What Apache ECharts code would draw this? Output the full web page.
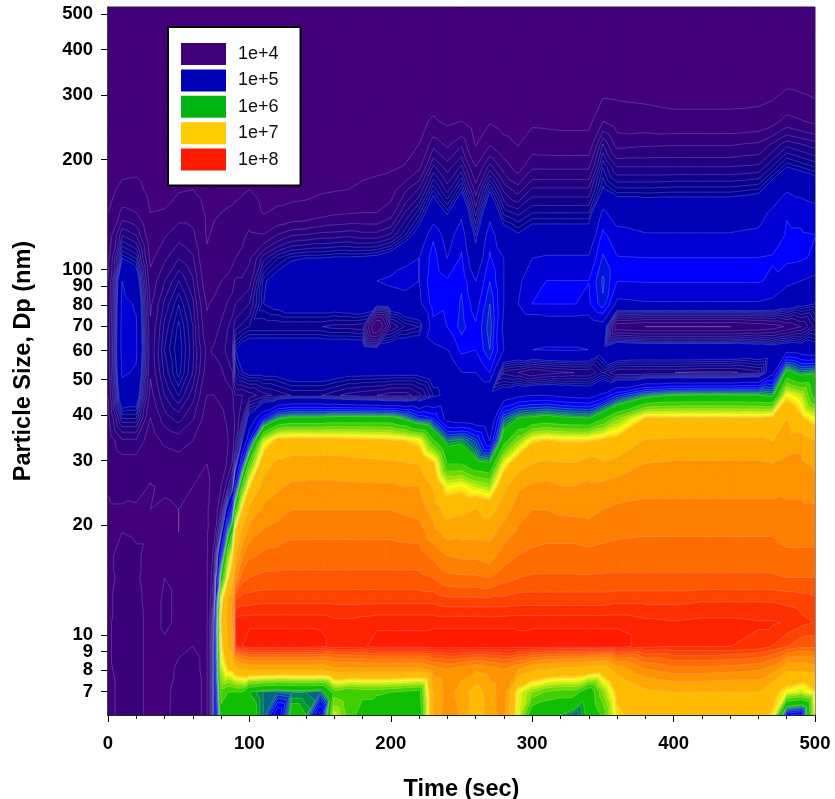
<!DOCTYPE html>
<html><head><meta charset="utf-8"><style>html,body{margin:0;padding:0;background:#fff}#c{width:835px;height:799px}</style>
<script src="https://cdn.jsdelivr.net/npm/echarts@6/dist/echarts.min.js"></script></head><body><div id="c"></div>
<script>
const legendLabels=['1e+4','1e+5','1e+6','1e+7','1e+8'];
const legendColors=['#3f0077','#0000b5','#00b414','#ffcc00','#ff1a00'];
const xTicks=[0,100,200,300,400,500];
const yTickValues=[7,8,9,10,20,30,40,50,60,70,80,90,100,200,300,400,500];
const diameters=[6.04,6.98,8.06,9.31,10.8,12.4,14.3,16.5,19.1,22.1,25.5,29.4,34.0,39.2,45.3,52.3,60.4,69.8,80.6,93.1,107.5,124.1,143.3,165.5,191.1,220.7,254.8,294.3,339.8,392.5,453.2,523.3];
const times=[0,10,20,30,40,50,60,70,75,80,85,88,90,95,100,110,120,130,140,150,160,170,180,190,200,210,220,230,240,250,260,270,280,290,300,310,320,330,340,350,360,380,400,420,440,460,470,480,490,500];
// log10 of concentration: one profile per time, from the smallest diameter to the largest
const logConc=[
[3.98,3.98,3.99,3.99,3.99,3.99,3.98,3.98,3.97,3.97,4.02,4.08,4.15,4.25,4.30,4.38,4.38,4.36,4.33,4.30,4.25,4.15,4.00,3.90,3.80,3.75,3.70,3.65,3.60,3.55,3.50,3.45],
[4.02,4.02,4.02,4.03,4.03,4.02,4.02,4.03,4.00,3.97,4.10,4.20,4.45,4.85,5.20,5.33,5.38,5.38,5.36,5.30,5.00,4.70,4.36,4.08,3.90,3.80,3.72,3.65,3.60,3.55,3.50,3.45],
[4.03,4.03,4.03,4.03,4.03,4.02,4.01,4.01,3.99,3.98,4.05,4.20,4.45,4.85,5.15,5.28,5.33,5.32,5.28,5.15,4.90,4.60,4.30,4.10,3.92,3.80,3.72,3.65,3.60,3.55,3.50,3.45],
[3.97,3.97,3.97,3.97,3.97,3.97,3.97,3.98,3.99,4.00,3.99,4.05,4.18,4.30,4.42,4.50,4.52,4.50,4.45,4.38,4.25,4.15,4.00,3.90,3.82,3.75,3.70,3.65,3.60,3.55,3.50,3.45],
[3.98,3.98,3.98,3.99,4.01,4.01,4.00,3.98,3.98,3.98,4.02,4.15,4.35,4.55,4.70,4.80,4.85,4.80,4.72,4.60,4.45,4.28,4.02,3.90,3.82,3.76,3.70,3.65,3.60,3.55,3.50,3.45],
[4.03,4.03,4.01,3.99,3.99,3.99,3.99,3.99,4.00,4.00,4.03,4.20,4.40,4.65,4.85,4.98,5.00,4.97,4.90,4.78,4.60,4.42,4.20,3.97,3.85,3.78,3.72,3.65,3.60,3.55,3.50,3.45],
[4.03,4.03,4.02,4.00,3.99,3.99,3.98,3.98,3.99,3.99,4.00,4.10,4.30,4.50,4.65,4.78,4.80,4.78,4.72,4.62,4.50,4.35,4.20,4.00,3.90,3.80,3.72,3.65,3.60,3.55,3.50,3.45],
[3.98,3.98,3.98,3.98,3.98,3.98,3.98,3.98,3.98,3.98,3.97,4.00,4.05,4.20,4.30,4.40,4.45,4.35,4.28,4.15,4.05,3.97,3.95,3.85,3.82,3.78,3.72,3.65,3.60,3.55,3.50,3.45],
[5.00,5.00,5.00,5.00,4.95,4.70,4.55,4.40,4.20,4.10,4.05,4.05,4.10,4.20,4.30,4.40,4.50,4.40,4.35,4.20,4.10,4.05,3.97,3.90,3.85,3.78,3.72,3.65,3.60,3.55,3.50,3.45],
[6.20,6.40,6.70,6.90,7.00,6.85,6.10,5.50,4.90,4.50,4.30,4.15,4.15,4.25,4.35,4.45,4.55,4.50,4.40,4.30,4.15,4.08,4.00,3.90,3.87,3.78,3.72,3.65,3.60,3.55,3.50,3.45],
[6.20,6.30,7.00,7.30,7.40,7.35,6.95,6.55,5.90,5.20,4.60,4.35,4.30,4.35,4.40,4.55,4.65,4.60,4.50,4.35,4.20,4.10,4.02,3.93,3.88,3.78,3.72,3.65,3.60,3.55,3.50,3.45],
[6.20,6.30,7.05,7.40,7.50,7.50,7.20,6.90,6.30,5.60,4.85,4.50,4.40,4.40,4.45,4.60,4.70,4.65,4.55,4.40,4.25,4.13,4.03,3.94,3.88,3.78,3.72,3.65,3.60,3.55,3.50,3.45],
[6.20,6.30,7.20,7.95,7.98,7.85,7.55,7.30,7.00,6.20,5.40,4.80,4.55,4.50,4.60,4.90,5.00,4.75,4.60,4.50,4.30,4.18,4.05,3.95,3.88,3.78,3.72,3.65,3.60,3.55,3.50,3.45],
[6.15,6.30,7.30,8.00,7.99,7.88,7.75,7.60,7.35,7.00,6.40,5.60,5.00,4.70,4.60,5.00,5.10,4.80,4.65,4.50,4.35,4.25,4.10,3.97,3.90,3.78,3.72,3.65,3.60,3.55,3.50,3.45],
[6.10,6.00,7.35,8.03,7.99,7.88,7.78,7.68,7.55,7.35,6.95,6.40,5.50,5.10,4.65,5.05,5.15,4.85,4.70,4.55,4.45,4.35,4.15,4.00,3.92,3.78,3.72,3.65,3.60,3.55,3.50,3.45],
[5.90,5.90,7.35,8.03,7.99,7.89,7.80,7.72,7.62,7.50,7.38,7.20,6.75,5.55,4.75,5.05,5.15,4.85,5.00,4.98,4.75,4.32,3.98,3.90,3.85,3.78,3.72,3.65,3.60,3.55,3.50,3.45],
[5.30,5.85,7.35,8.03,7.99,7.89,7.80,7.73,7.65,7.55,7.45,7.35,7.10,5.95,4.80,5.05,5.15,4.85,5.05,5.08,4.90,4.50,4.05,3.88,3.85,3.78,3.72,3.65,3.60,3.55,3.50,3.45],
[6.10,5.90,7.35,8.03,7.99,7.89,7.80,7.74,7.68,7.60,7.50,7.40,7.12,6.05,4.85,5.10,5.15,4.85,5.10,5.15,4.98,4.60,4.10,3.88,3.85,3.78,3.72,3.65,3.60,3.55,3.50,3.45],
[6.00,5.90,7.35,8.03,7.99,7.89,7.80,7.74,7.68,7.60,7.50,7.40,7.12,6.05,4.85,5.10,5.15,4.85,5.10,5.18,5.00,4.62,4.12,3.90,3.85,3.78,3.72,3.65,3.60,3.55,3.50,3.45],
[5.20,5.85,7.35,8.02,7.99,7.89,7.80,7.74,7.68,7.60,7.50,7.42,7.10,6.05,4.85,5.10,5.15,4.85,5.10,5.20,5.00,4.65,4.20,3.95,3.85,3.78,3.72,3.65,3.60,3.55,3.50,3.45],
[6.75,6.40,7.45,7.98,7.97,7.89,7.80,7.74,7.68,7.60,7.50,7.42,7.09,6.10,4.80,5.08,5.15,4.82,5.10,5.20,5.02,4.66,4.26,3.98,3.85,3.78,3.72,3.65,3.60,3.55,3.50,3.45],
[6.40,6.30,7.45,7.98,7.97,7.89,7.80,7.74,7.68,7.60,7.50,7.40,7.08,6.10,4.75,5.05,5.15,4.82,5.12,5.20,5.02,4.68,4.28,4.00,3.85,3.78,3.72,3.65,3.60,3.55,3.50,3.45],
[6.20,6.35,7.45,7.99,7.98,7.89,7.80,7.74,7.68,7.60,7.50,7.38,7.07,6.10,4.72,5.05,5.15,4.80,5.15,5.25,5.03,4.65,4.30,4.08,3.88,3.80,3.72,3.65,3.60,3.55,3.50,3.45],
[6.05,6.35,7.45,8.02,7.99,7.89,7.80,7.74,7.68,7.60,7.50,7.36,7.05,6.10,4.70,5.05,5.10,4.00,5.10,5.30,5.05,4.65,4.30,4.12,3.92,3.85,3.72,3.65,3.60,3.55,3.50,3.45],
[6.10,6.30,7.45,8.02,7.99,7.89,7.80,7.74,7.68,7.60,7.50,7.35,7.03,6.10,4.65,5.05,5.15,4.70,5.15,5.35,5.12,4.72,4.40,4.20,3.95,3.85,3.75,3.65,3.60,3.55,3.50,3.45],
[6.15,6.25,7.45,8.02,7.99,7.89,7.80,7.74,7.67,7.58,7.48,7.32,7.00,5.95,4.65,5.05,5.15,4.85,5.20,5.38,5.25,4.90,4.70,4.45,4.02,3.85,3.78,3.65,3.60,3.55,3.50,3.45],
[6.10,6.20,7.45,8.02,7.99,7.89,7.80,7.74,7.66,7.56,7.48,7.30,6.90,5.70,4.75,5.05,5.15,4.90,5.25,5.30,5.30,5.10,4.88,4.62,4.25,4.00,3.90,3.75,3.70,3.55,3.50,3.45],
[7.30,7.30,7.55,8.03,7.99,7.89,7.78,7.68,7.53,7.42,7.28,7.05,6.35,5.60,4.95,5.10,5.25,5.42,5.55,5.60,5.55,5.45,5.15,4.95,4.72,4.42,4.05,3.85,3.70,3.55,3.50,3.45],
[7.60,7.55,7.60,8.03,7.99,7.87,7.73,7.60,7.42,7.20,6.85,6.30,5.90,5.20,5.05,5.10,5.30,5.48,5.50,5.50,5.30,5.20,4.98,4.75,4.55,4.25,3.93,3.70,3.65,3.55,3.50,3.45],
[7.45,7.40,7.55,8.03,7.99,7.87,7.72,7.58,7.43,7.25,6.90,6.30,5.95,5.15,5.15,5.30,5.52,5.65,5.62,5.58,5.50,5.42,5.25,4.98,4.72,4.45,4.00,3.82,3.70,3.55,3.50,3.45],
[7.15,7.20,7.50,8.03,7.99,7.87,7.72,7.58,7.43,7.30,6.75,6.10,5.75,5.10,5.05,5.30,5.48,5.50,5.40,5.30,5.10,4.95,4.75,4.55,4.30,3.97,3.80,3.70,3.65,3.55,3.50,3.45],
[7.40,7.40,7.55,8.03,7.99,7.87,7.70,7.55,7.42,7.22,6.65,6.05,5.30,5.05,5.05,5.48,5.70,5.75,5.70,5.60,5.50,5.42,5.22,4.98,4.65,4.28,3.97,3.80,3.70,3.55,3.50,3.45],
[7.55,7.58,7.60,8.03,7.99,7.87,7.75,7.65,7.55,7.40,7.25,6.85,6.20,5.80,5.15,4.75,5.30,5.25,5.30,5.30,5.30,5.10,4.88,4.68,4.40,4.10,3.85,3.70,3.65,3.55,3.50,3.45],
[6.80,6.85,7.50,8.02,7.99,7.88,7.78,7.70,7.62,7.55,7.45,7.20,6.60,6.00,5.25,4.70,5.25,5.10,5.30,5.28,5.18,5.02,4.82,4.55,4.20,3.98,3.80,3.70,3.65,3.55,3.50,3.45],
[6.10,6.60,7.35,8.03,7.99,7.88,7.79,7.72,7.66,7.60,7.50,7.30,6.95,6.05,5.30,4.60,5.30,5.10,5.48,5.36,5.30,5.10,4.90,4.72,4.45,4.18,3.93,3.75,3.65,3.55,3.50,3.45],
[6.05,6.45,7.30,8.03,7.99,7.88,7.79,7.73,7.67,7.60,7.52,7.35,7.02,6.10,5.30,4.65,5.32,5.15,5.48,5.48,5.33,5.10,4.90,4.72,4.45,4.16,3.92,3.75,3.65,3.55,3.50,3.45],
[6.00,6.40,7.25,8.03,7.99,7.88,7.79,7.73,7.67,7.58,7.48,7.32,6.98,6.05,5.25,4.68,5.32,5.15,5.48,5.48,5.33,5.10,4.90,4.72,4.45,4.15,3.90,3.72,3.65,3.55,3.50,3.45],
[5.85,6.40,7.25,8.03,7.99,7.88,7.79,7.73,7.67,7.57,7.48,7.32,6.98,6.02,5.22,4.70,5.32,5.15,5.48,5.48,5.33,5.10,4.90,4.72,4.45,4.15,3.90,3.72,3.65,3.55,3.50,3.45],
[6.05,6.10,7.20,8.03,7.99,7.88,7.79,7.72,7.66,7.56,7.50,7.42,6.98,6.00,5.20,4.70,5.30,5.15,5.45,5.48,5.33,5.10,4.90,4.72,4.45,4.15,3.90,3.70,3.65,3.55,3.50,3.45],
[6.35,6.60,7.15,8.03,7.99,7.88,7.79,7.73,7.67,7.60,7.52,7.33,7.05,6.25,5.35,4.85,5.10,5.20,5.68,5.72,5.62,5.52,5.35,5.02,4.90,4.70,4.30,4.00,3.85,3.70,3.50,3.45],
[6.95,7.05,7.40,8.03,7.99,7.89,7.79,7.74,7.68,7.62,7.54,7.38,7.10,6.55,5.60,4.70,5.30,4.35,5.25,5.48,5.49,5.38,5.18,4.92,4.70,4.42,4.18,3.98,3.80,3.65,3.50,3.45],
[7.12,7.25,7.60,7.97,7.97,7.89,7.79,7.74,7.69,7.63,7.57,7.48,7.32,7.00,5.90,4.70,5.25,4.30,5.28,5.49,5.48,5.32,5.15,4.92,4.70,4.45,4.15,3.95,3.80,3.65,3.50,3.45],
[7.18,7.30,7.67,7.955,7.96,7.89,7.79,7.74,7.69,7.63,7.57,7.50,7.34,7.00,6.00,4.70,5.25,4.30,5.28,5.49,5.48,5.32,5.15,4.93,4.70,4.46,4.11,3.90,3.78,3.65,3.50,3.45],
[7.18,7.30,7.67,7.955,7.97,7.90,7.79,7.74,7.69,7.63,7.57,7.50,7.34,7.00,6.02,4.68,5.25,4.30,5.28,5.49,5.48,5.32,5.15,4.93,4.70,4.46,4.11,3.90,3.78,3.65,3.50,3.45],
[7.18,7.30,7.65,7.955,7.97,7.90,7.79,7.74,7.69,7.63,7.57,7.50,7.34,7.00,6.02,4.68,5.25,4.30,5.28,5.49,5.48,5.32,5.15,4.93,4.70,4.46,4.11,3.90,3.78,3.65,3.50,3.45],
[7.15,7.30,7.62,7.94,7.96,7.90,7.79,7.74,7.69,7.63,7.57,7.50,7.35,7.00,6.00,4.75,5.20,4.35,5.28,5.49,5.48,5.35,5.20,4.96,4.72,4.50,4.14,3.92,3.78,3.65,3.50,3.45],
[6.95,7.10,7.55,7.90,7.96,7.90,7.79,7.74,7.69,7.63,7.57,7.48,7.30,7.05,5.95,5.20,5.15,4.40,5.25,5.45,5.49,5.40,5.35,5.12,4.85,4.62,4.22,3.98,3.80,3.65,3.50,3.45],
[5.50,6.85,7.35,7.85,7.95,7.89,7.78,7.72,7.66,7.62,7.58,7.50,7.42,7.30,6.90,6.10,5.20,4.50,5.15,5.35,5.52,5.49,5.47,5.28,5.00,4.75,4.38,4.10,3.85,3.70,3.50,3.45],
[5.40,6.75,7.35,7.80,7.92,7.88,7.78,7.72,7.66,7.62,7.58,7.50,7.45,7.05,6.75,5.90,5.15,4.60,5.05,5.30,5.50,5.49,5.45,5.22,4.95,4.70,4.32,4.05,3.85,3.70,3.50,3.45],
[6.80,6.95,7.40,7.80,7.90,7.86,7.78,7.72,7.66,7.62,7.55,7.45,7.30,6.85,6.20,5.95,5.10,4.80,5.00,5.25,5.45,5.48,5.40,5.15,4.90,4.65,4.25,4.00,3.82,3.70,3.50,3.45]
];
const bandColors=['#42007a',
'#3a007a','#32007c','#2a007e','#220080','#1a0084','#120088','#0a008c','#040090','#000094',
'#0000b4','#0000d4','#0000ff','#0014e0','#0030c0','#004ca0','#006880','#008450','#00a028',
'#10c000','#40d000','#6cdc00','#98e400','#c0ee00','#e0f800','#ffff00','#ffec00','#ffd800',
'#ffbc00','#ffa800','#ff9400','#ff8000','#ff6c00','#ff5800','#ff4400','#ff3000','#ff2400',
'#ff1c00'];
const levels=[];
for(let e=4;e<=7;e++)for(let k=1;k<=9;k++)levels.push(e+Math.log10(k));
levels.push(8);
const cells=[];
for(let i=0;i<times.length-1;i++)for(let j=0;j<diameters.length-1;j++){
  cells.push([times[i],diameters[j],times[i+1],diameters[j+1],logConc[i][j],logConc[i+1][j],logConc[i][j+1],logConc[i+1][j+1]]);
}
function clipAbove(poly,lim,sign){
  const out=[];
  for(let i=0;i<poly.length;i++){
    const a=poly[i],b=poly[(i+1)%poly.length];
    const da=sign*(a[2]-lim),db=sign*(b[2]-lim);
    if(da>=0)out.push(a);
    if((da>=0)!==(db>=0)){
      const t=da/(da-db);
      out.push([a[0]+(b[0]-a[0])*t,a[1]+(b[1]-a[1])*t,lim]);
    }
  }
  return out;
}
function levelSegment(tri,lim){
  const pts=[];
  for(let i=0;i<3;i++){
    const a=tri[i],b=tri[(i+1)%3];
    if((a[2]>=lim)!==(b[2]>=lim)){
      const t=(lim-a[2])/(b[2]-a[2]);
      pts.push([a[0]+(b[0]-a[0])*t,a[1]+(b[1]-a[1])*t]);
    }
  }
  return pts.length===2?pts:null;
}
function bandsOfDecade(d){
  // decade 0 also holds everything under 1e4; decade 4 holds 1e8 and over
  if(d===0)return [0,1,2,3,4,5,6,7,8,9];
  if(d===4)return [37];
  const r=[];for(let k=1+9*d;k<=9+9*d;k++)r.push(k);return r;
}
function makeRender(decade){
  const bands=bandsOfDecade(decade);
  return function(params,api){
    const a=api.coord([api.value(0),api.value(1)]),b=api.coord([api.value(2),api.value(1)]),
          c=api.coord([api.value(0),api.value(3)]),e=api.coord([api.value(2),api.value(3)]);
    const p00=[a[0],a[1],api.value(4)],p10=[b[0],b[1],api.value(5)],p01=[c[0],c[1],api.value(6)],p11=[e[0],e[1],api.value(7)];
    const tris=[[p00,p10,p11],[p00,p11,p01]];
    const fills=[],lines=[];
    for(const tri of tris){
      const vmin=Math.min(tri[0][2],tri[1][2],tri[2][2]),vmax=Math.max(tri[0][2],tri[1][2],tri[2][2]);
      for(const k of bands){
        const lo=k===0?-Infinity:levels[k-1],hi=k>=levels.length?Infinity:levels[k];
        if(vmax<lo||vmin>=hi)continue;
        let poly=tri;
        if(lo!==-Infinity)poly=clipAbove(poly,lo,1);
        if(poly.length&&hi!==Infinity)poly=clipAbove(poly,hi,-1);
        if(poly.length>=3)fills.push({type:'polygon',silent:true,shape:{points:poly.map(p=>[p[0],p[1]])},style:{fill:bandColors[k],stroke:bandColors[k],lineWidth:1}});
        if(lo!==-Infinity){
          const seg=levelSegment(tri,lo);
          if(seg)lines.push({type:'polyline',silent:true,z2:10,shape:{points:seg},style:{fill:null,stroke:'rgba(228,228,240,0.36)',lineWidth:0.6}});
        }
      }
    }
    const children=fills.concat(lines);
    return children.length?{type:'group',children}:null;
  };
}
const labelFont={fontFamily:'Liberation Sans',fontWeight:'bold',fontSize:18.5,color:'#000'};
const series=legendLabels.map((name,d)=>({
  name,type:'custom',coordinateSystem:'cartesian2d',silent:true,animation:false,progressive:0,clip:true,
  z:2,itemStyle:{color:legendColors[d]},renderItem:makeRender(d),
  encode:{x:[0,2],y:[1,3]},data:cells
}));
const chart=echarts.init(document.getElementById('c'),null,{renderer:'canvas'});
chart.setOption({
  animation:false,backgroundColor:'#fff',
  grid:{left:108,right:20,top:7,bottom:84,show:true,borderColor:'#222',borderWidth:1,backgroundColor:'#42007a',containLabel:false,outerBoundsMode:'none'},
  legend:{left:168,top:27,orient:'vertical',icon:'rect',selectedMode:false,itemWidth:45,itemHeight:22,itemGap:4.4,
    padding:[16,22,15,13],backgroundColor:'#fff',borderColor:'#000',borderWidth:2,
    textStyle:{fontFamily:'Liberation Sans',fontSize:18,color:'#111',padding:[0,0,0,7]},
    data:legendLabels.map((name,d)=>({name,itemStyle:{color:legendColors[d]}})),z:20},
  xAxis:{type:'value',min:0,max:500,interval:100,name:'Time (sec)',nameLocation:'middle',nameGap:63,
    nameTextStyle:{fontFamily:'Liberation Sans',fontWeight:'bold',fontSize:23.5,color:'#000'},
    axisLine:{show:true,onZero:false,lineStyle:{color:'#000',width:1.5}},axisTick:{show:true,length:7,lineStyle:{color:'#000',width:1}},
    minorTick:{show:true,splitNumber:5,length:4,lineStyle:{color:'#000',width:1}},splitLine:{show:false},minorSplitLine:{show:false},
    axisLabel:{...labelFont,margin:19,showMinLabel:true,showMaxLabel:true,customValues:xTicks}},
  yAxis:{type:'log',min:diameters[0],max:diameters[diameters.length-1],logBase:10,name:'Particle Size, Dp (nm)',nameLocation:'middle',nameGap:72,
    nameTextStyle:{fontFamily:'Liberation Sans',fontWeight:'bold',fontSize:23.5,color:'#000'},
    axisLine:{show:true,lineStyle:{color:'#222',width:1.5}},
    axisTick:{show:true,length:7,customValues:yTickValues,lineStyle:{color:'#000',width:1}},minorTick:{show:false},splitLine:{show:false},
    axisLabel:{...labelFont,margin:15,customValues:yTickValues,formatter:v=>String(Math.round(v))}},
  series
});
</script></body></html>
